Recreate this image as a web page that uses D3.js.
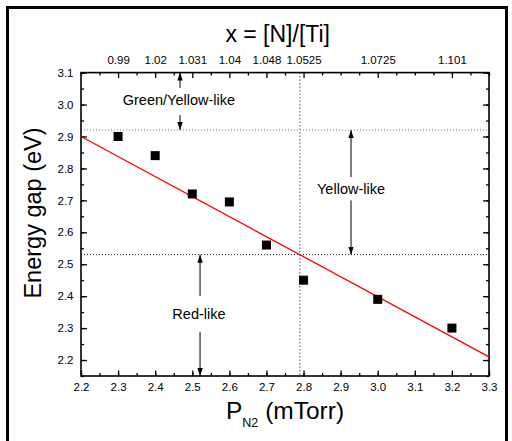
<!DOCTYPE html>
<html>
<head>
<meta charset="utf-8">
<script src="https://cdn.jsdelivr.net/npm/d3@7"></script>
<style>
  body { margin: 0; background: #fff; }
  svg { display: block; font-family: "Liberation Sans", Arial, sans-serif; }
  .domain { display: none; }
</style>
</head>
<body>
<div class="chart"></div>
<script>
// measured points
const pressure = [2.3, 2.4, 2.5, 2.6, 2.7, 2.8, 3.0, 3.2];
const energyGap = [2.90, 2.84, 2.72, 2.695, 2.56, 2.45, 2.39, 2.30];

// linear fit, read at both ends of the axis
const fitP = [2.2, 3.3];
const fitE = [2.90, 2.21];

// top axis: N/Ti ratio at given pressures
const ratioAt = [2.3, 2.4, 2.5, 2.6, 2.7, 2.8, 3.0, 3.2];
const ratioLabels = ["0.99", "1.02", "1.031", "1.04", "1.048", "1.0525", "1.0725", "1.101"];

const xTicks = [2.2, 2.3, 2.4, 2.5, 2.6, 2.7, 2.8, 2.9, 3.0, 3.1, 3.2, 3.3];
const yTicks = [2.2, 2.3, 2.4, 2.5, 2.6, 2.7, 2.8, 2.9, 3.0, 3.1];

// colour band boundaries
const bandEdges = [2.92, 2.53];
const crossP = 2.79;

const regionNames = ["Green/Yellow-like", "Yellow-like", "Red-like"];
const regionP = [2.464, 2.928, 2.518];
const regionE = [3.016, 2.737, 2.345];
// arrows: [p, from, to]
const arrows = [
  [2.467, 3.052, 3.1], [2.467, 2.967, 2.92],
  [2.928, 2.773, 2.92], [2.928, 2.70, 2.53],
  [2.521, 2.40, 2.53], [2.521, 2.288, 2.15]
];

let svgWidth = 512;
let svgHeight = 441;

let svg = d3.select(".chart")
  .append("svg")
  .attr("width", svgWidth)
  .attr("height", svgHeight);

let x = d3.scaleLinear().domain([2.2, 3.3]).range([81, 489]);
let y = d3.scaleLinear().domain([2.15, 3.1]).range([376, 72.6]);

// outer frame
svg.append("rect")
  .attr("x", 7.5).attr("y", 7.5)
  .attr("width", 499).attr("height", 460)
  .attr("fill", "none").attr("stroke", "#000").attr("stroke-width", 3);

let defs = svg.append("defs");
defs.append("marker")
  .attr("id", "head")
  .attr("viewBox", "0 0 8 8")
  .attr("refX", 8).attr("refY", 4)
  .attr("markerWidth", 8).attr("markerHeight", 8)
  .attr("markerUnits", "userSpaceOnUse")
  .attr("orient", "auto")
  .append("path")
  .attr("d", "M0,1.3 L8,4 L0,6.7 Z")
  .attr("fill", "#000");

function minorVals(lo, hi) {
  let v = [];
  for (let i = 0; lo + i * 0.05 <= hi + 1e-9; i++) v.push(+(lo + i * 0.05).toFixed(2));
  return v;
}
const xMinor = minorVals(2.2, 3.3);
const yMinor = minorVals(2.15, 3.1);

// bottom
svg.append("g").attr("transform", "translate(0,376)")
  .call(d3.axisBottom(x).tickValues(xMinor).tickSize(-3).tickFormat(""));
svg.append("g").attr("transform", "translate(0,376)")
  .call(d3.axisBottom(x).tickValues(xTicks).tickSize(-5.5).tickPadding(7).tickFormat(d3.format(".1f")))
  .selectAll("text").attr("font-size", 11.5).attr("fill", "#000");

// top
svg.append("g").attr("transform", "translate(0,72.6)")
  .call(d3.axisTop(x).tickValues(xMinor.filter(v => !ratioAt.some(r => Math.abs(r - v) < 1e-6))).tickSize(-3).tickFormat(""));
svg.append("g").attr("transform", "translate(0,72.6)")
  .call(d3.axisTop(x).tickValues(ratioAt).tickSize(-5.5).tickPadding(9)
    .tickFormat((d, i) => ratioLabels[i]))
  .selectAll("text").attr("font-size", 11.5).attr("fill", "#000");

// left
svg.append("g").attr("transform", "translate(81,0)")
  .call(d3.axisLeft(y).tickValues(yMinor).tickSize(-3).tickFormat(""));
svg.append("g").attr("transform", "translate(81,0)")
  .call(d3.axisLeft(y).tickValues(yTicks).tickSize(-6).tickPadding(7.5).tickFormat(d3.format(".1f")))
  .selectAll("text").attr("font-size", 11.5).attr("fill", "#000");

// right
svg.append("g").attr("transform", "translate(489,0)")
  .call(d3.axisRight(y).tickValues(yMinor).tickSize(-3).tickFormat(""));
svg.append("g").attr("transform", "translate(489,0)")
  .call(d3.axisRight(y).tickValues(yTicks).tickSize(-6).tickFormat(""));

svg.selectAll(".tick line").attr("stroke", "#000").attr("stroke-width", 1.3);

// dotted guides
svg.append("line")
  .attr("x1", x(2.2)).attr("x2", x(3.3))
  .attr("y1", y(bandEdges[0])).attr("y2", y(bandEdges[0]))
  .attr("stroke", "#777").attr("stroke-width", 1).attr("stroke-dasharray", "1,2");
svg.append("line")
  .attr("x1", x(2.2)).attr("x2", x(3.3))
  .attr("y1", y(bandEdges[1])).attr("y2", y(bandEdges[1]))
  .attr("stroke", "#222").attr("stroke-width", 1).attr("stroke-dasharray", "1,2");
svg.append("line")
  .attr("x1", x(crossP)).attr("x2", x(crossP))
  .attr("y1", y(3.1)).attr("y2", y(2.15))
  .attr("stroke", "#777").attr("stroke-width", 1.3).attr("stroke-dasharray", "1.3,2.2");

// plot frame
svg.append("rect")
  .attr("x", x(2.2)).attr("y", y(3.1))
  .attr("width", x(3.3) - x(2.2)).attr("height", y(2.15) - y(3.1))
  .attr("fill", "none").attr("stroke", "#000").attr("stroke-width", 1.6);

// fit line
svg.append("line")
  .attr("x1", x(fitP[0])).attr("y1", y(fitE[0]))
  .attr("x2", x(fitP[1])).attr("y2", y(fitE[1]))
  .attr("stroke", "#f00").attr("stroke-width", 1.3);

// points
svg.selectAll(".pt")
  .data(pressure)
  .enter()
  .append("rect")
  .attr("class", "pt")
  .attr("x", (d, i) => x(d) - 4.5)
  .attr("y", (d, i) => y(energyGap[i]) - 4.5)
  .attr("width", 9).attr("height", 9)
  .attr("fill", "#000");

// arrows
svg.selectAll(".arr")
  .data(arrows)
  .enter()
  .append("line")
  .attr("class", "arr")
  .attr("x1", d => x(d[0])).attr("x2", d => x(d[0]))
  .attr("y1", d => y(d[1])).attr("y2", d => y(d[2]))
  .attr("stroke", "#000").attr("stroke-width", 1)
  .attr("marker-end", "url(#head)");

// region labels
svg.selectAll(".reg")
  .data(regionNames)
  .enter()
  .append("text")
  .attr("class", "reg")
  .attr("x", (d, i) => x(regionP[i]))
  .attr("y", (d, i) => y(regionE[i]))
  .attr("dy", "0.35em")
  .attr("text-anchor", "middle")
  .attr("font-size", 14.5)
  .text(d => d);

// titles
svg.append("text")
  .attr("x", 277.7).attr("y", 42)
  .attr("text-anchor", "middle")
  .attr("font-size", 23)
  .text("x = [N]/[Ti]");

svg.append("text")
  .attr("transform", "translate(41,213) rotate(-90)")
  .attr("text-anchor", "middle")
  .attr("font-size", 23.5)
  .text("Energy gap (eV)");

let xt = svg.append("text")
  .attr("x", 226).attr("y", 419)
  .attr("font-size", 24.5);
xt.append("tspan").text("P");
xt.append("tspan").attr("font-size", 12.5).attr("dy", 8).text("N2");
xt.append("tspan").attr("dy", -8).text(" (mTorr)");
</script>
</body>
</html>
